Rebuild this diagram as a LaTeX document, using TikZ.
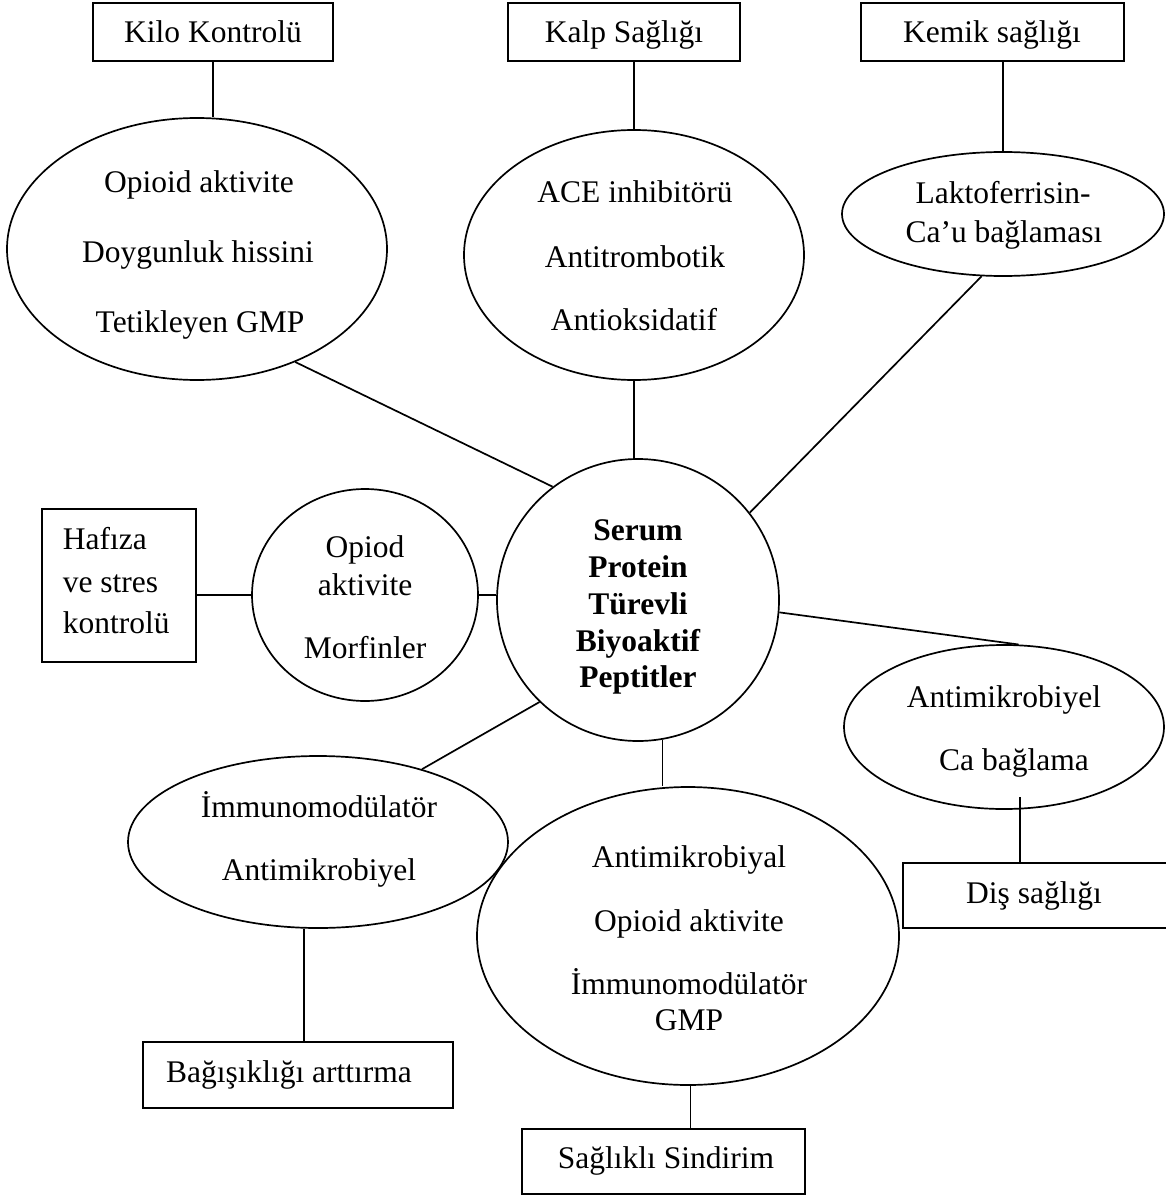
\documentclass[tikz,border=0pt]{standalone}
\usepackage{fontspec}
\setmainfont{Liberation Serif}
\usetikzlibrary{shapes.geometric}
\begin{document}
\begin{tikzpicture}[x=1pt,y=-1pt,
  line width=1.7pt,
  boxnode/.style={draw, rectangle, inner sep=0pt, minimum width=#1},
  ellnode/.style={draw, ellipse, inner sep=0pt},
  txt/.style={font=\fontsize{31.5}{38}\selectfont, anchor=base, inner sep=0pt},
  btxt/.style={font=\fontsize{31.5}{38}\selectfont\bfseries, anchor=base, inner sep=0pt},
  ltxt/.style={font=\fontsize{31.5}{38}\selectfont, anchor=base west, inner sep=0pt}]
\useasboundingbox (0,0) rectangle (1165,1198);

% boxes
\node[boxnode=240, minimum height=58] (kilo) at (213,32) {};
\node[boxnode=232, minimum height=58] (kalp) at (624,32) {};
\node[boxnode=263, minimum height=58] (kemik) at (992.5,32) {};
\node[boxnode=154, minimum height=153] (haf) at (119,585.5) {};
\node[boxnode=267, minimum height=65] (dis) at (1036.5,895.5) {};
\node[boxnode=310, minimum height=66] (bag) at (298,1075) {};
\node[boxnode=283, minimum height=65] (sag) at (663.5,1161.5) {};

% ellipses
\node[ellnode, minimum width=380, minimum height=262] (op) at (197,249) {};
\node[ellnode, minimum width=340, minimum height=250] (ace) at (634,255) {};
\node[ellnode, minimum width=322, minimum height=124] (lak) at (1003,214) {};
\node[ellnode, minimum width=226, minimum height=212] (opd) at (365,595) {};
\node[draw, circle, inner sep=0pt, minimum size=282] (ctr) at (638,600) {};
\node[ellnode, minimum width=320, minimum height=164] (ca) at (1004,727) {};
\node[ellnode, minimum width=380, minimum height=172] (imm) at (318,842) {};
\node[ellnode, minimum width=422, minimum height=298] (big) at (688,936) {};

% connectors
\draw (kilo.south) -- (kilo.south |- op.north);
\draw (kalp.south -| ace.north) -- (ace.north);
\draw (ace.south) -- (ace.south |- ctr.north);
\draw (kemik.south -| lak.north) -- (lak.north);
\draw (op.-49) -- (ctr.127);
\draw (lak.-109) -- (ctr.38);
\draw (opd.west) -- (opd.west -| haf.east);
\draw (opd.east) -- (opd.east -| ctr.west);
\draw (ctr.-5) -- (ca.80);
\draw (ctr.-134) -- (imm.35);
\draw (ctr.-80) -- (ctr.-80 |- big.north);
\coordinate (cadrop) at (1020,797);
\draw (cadrop) -- (cadrop |- dis.north);
\draw (imm.-99.5) -- (imm.-99.5 |- bag.north);
\draw (big.-89) -- (big.-89 |- sag.north);

% box texts
\node[txt] (tkilo) at (213,43) {Kilo Kontrolü};
\node[txt] (tkalp) at (624,43) {Kalp Sağlığı};
\node[txt] (tkemik) at (992,43) {Kemik sağlığı};
\node[ltxt] (thaf1) at (62,549) {Hafıza};
\node[ltxt] (thaf2) at (62,592) {ve stres};
\node[ltxt] (thaf3) at (62,633) {kontrolü};
\node[txt] (tdis) at (1034,903) {Diş sağlığı};
\node[txt] (tbag) at (289,1082) {Bağışıklığı arttırma};
\node[txt] (tsag) at (666,1168) {Sağlıklı Sindirim};

% ellipse texts
\node[txt] (top1) at (199,193) {Opioid aktivite};
\node[txt] (top2) at (198,262) {Doygunluk hissini};
\node[txt] (top3) at (200,332) {Tetikleyen GMP};
\node[txt] (tace1) at (635,203) {ACE inhibitörü};
\node[txt] (tace2) at (635,267) {Antitrombotik};
\node[txt] (tace3) at (634,330) {Antioksidatif};
\node[txt] (tlak1) at (1003,204) {Laktoferrisin-};
\node[txt] (tlak2) at (1004,243) {Ca’u bağlaması};
\node[txt] (topd1) at (365,557) {Opiod};
\node[txt] (topd2) at (365,595) {aktivite};
\node[txt] (topd3) at (365,658) {Morfinler};
\node[btxt] (tctr1) at (638,540) {Serum};
\node[btxt] (tctr2) at (638,577) {Protein};
\node[btxt] (tctr3) at (638,614) {Türevli};
\node[btxt] (tctr4) at (638,651) {Biyoaktif};
\node[btxt] (tctr5) at (638,687) {Peptitler};
\node[txt] (tca1) at (1004,707) {Antimikrobiyel};
\node[txt] (tca2) at (1014,770) {Ca bağlama};
\node[txt] (timm1) at (319,817) {İmmunomodülatör};
\node[txt] (timm2) at (319,880) {Antimikrobiyel};
\node[txt] (tbig1) at (689,867) {Antimikrobiyal};
\node[txt] (tbig2) at (689,931) {Opioid aktivite};
\node[txt] (tbig3) at (689,994) {İmmunomodülatör};
\node[txt] (tbig4) at (689,1030) {GMP};
\end{tikzpicture}
\end{document}
